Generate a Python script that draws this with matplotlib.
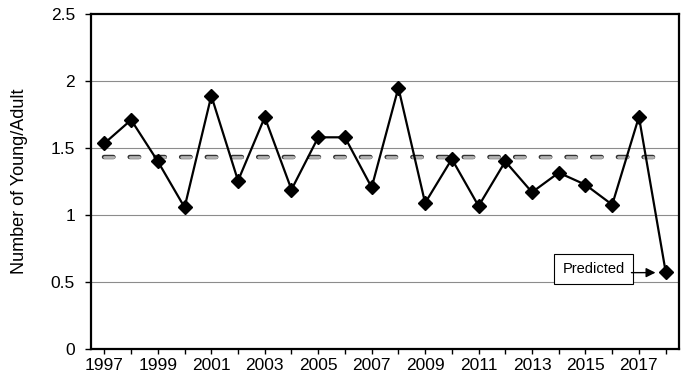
import matplotlib
matplotlib.use("Agg")
import matplotlib.pyplot as plt
import matplotlib.patheffects as pe
import numpy as np

plt.rcParams['font.family'] = ['Liberation Sans', 'DejaVu Sans']

# data
years = list(range(1997, 2019))
young_per_adult = [1.535, 1.71, 1.40, 1.057, 1.89, 1.256, 1.73, 1.19, 1.58, 1.58,
                   1.206, 1.95, 1.09, 1.418, 1.067, 1.40, 1.17, 1.316, 1.226, 1.077,
                   1.733, 0.577]
mean_line = 1.43
y_ticks = [0, 0.5, 1, 1.5, 2, 2.5]
y_tick_labels = ['0', '0.5', '1', '1.5', '2', '2.5']

fig = plt.figure(figsize=(6.95, 3.85), dpi=100)
ax = fig.add_axes([0.131, 0.0935, 0.846, 0.870])

# horizontal grid
for v in y_ticks[1:-1]:
    ax.axhline(v, color='#8c8c8c', linewidth=0.8, zorder=1)

# mean dashed line (grey dashes with dark outline)
ax.plot([years[0], years[-1]], [mean_line, mean_line], color='#b4b4b4',
        linewidth=2.0, linestyle=(0, (3.4, 5.85)), dash_capstyle='round',
        path_effects=[pe.Stroke(linewidth=3.2, foreground='#333333'), pe.Normal()],
        zorder=2)

ax.plot(years, young_per_adult, color='black', linewidth=1.6, marker='D',
        markersize=7.5, markerfacecolor='black', markeredgecolor='black', zorder=3)

ax.set_xlim(1996.5, 2018.5)
ax.set_ylim(0, 2.5)
ax.set_xticks(years)
ax.set_xticklabels([str(y) if (y - 1997) % 2 == 0 else '' for y in years])
ax.set_yticks(y_ticks)
ax.set_yticklabels(y_tick_labels)
ax.tick_params(axis='x', direction='out', length=3.5, width=1, pad=3, labelsize=12.5)
ax.tick_params(axis='y', direction='out', length=4.5, width=1, pad=7, labelsize=12.5)
for s in ax.spines.values():
    s.set_linewidth(1.6)
    s.set_color('black')

ax.set_ylabel('Number of Young/Adult', fontsize=13, labelpad=16)

# "Predicted" annotation
ax.text(2015.3, 0.598, 'Predicted', fontsize=10.5, ha='center', va='center',
        bbox=dict(boxstyle='square,pad=0.55', facecolor='white', edgecolor='black',
                  linewidth=0.8), zorder=4)
ax.annotate('', xy=(2017.62, 0.57), xytext=(2016.72, 0.57),
            arrowprops=dict(arrowstyle='-|>', color='black', linewidth=1.0,
                            mutation_scale=14, shrinkA=0, shrinkB=0), zorder=5)

fig.savefig('out.png', dpi=100)
